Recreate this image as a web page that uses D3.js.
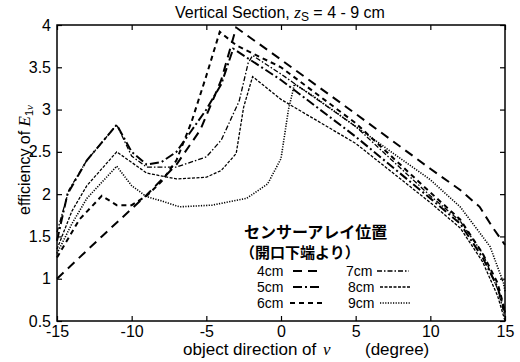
<!DOCTYPE html>
<html>
<head>
<meta charset="utf-8">
<script src="https://cdn.jsdelivr.net/npm/d3@7"></script>
<style>
body { margin: 0; background: #fff; }
svg { font-family: "Liberation Sans", Arial, sans-serif; }
.jp { font-family: "Noto Sans CJK JP", sans-serif; }
</style>
</head>
<body>
<svg id="chart" width="520" height="362"></svg>
<script>
"use strict";

// values, [angle (deg), efficiency]
var series4cm = [[-15,1.0],[-12,1.5],[-9,1.99],[-7,2.35],[-5.4,2.76],[-4,3.35],[-3,3.97],[0,3.59],[5,2.95],[10,2.3],[12,2.05],[13.3,1.85],[14.2,1.6],[15,1.4]];
var series5cm = [[-15,1.45],[-14.3,2.0],[-13,2.4],[-11,2.82],[-10,2.5],[-9,2.35],[-8,2.38],[-7,2.5],[-6,2.75],[-5,3.0],[-4,3.3],[-3.2,3.72],[0,3.35],[5,2.68],[10,1.95],[12,1.65],[13.5,1.25],[14.5,0.9],[15,0.6]];
var series6cm = [[-15,1.25],[-13.5,1.7],[-12,1.98],[-11,1.87],[-10,1.87],[-9,1.98],[-8,2.15],[-7,2.4],[-6,2.85],[-5,3.4],[-4.1,3.92],[-3,3.76],[0,3.5],[5,2.84],[10,2.02],[12,1.7],[13.5,1.3],[14.5,0.95],[15,0.62]];
var series7cm = [[-15,1.55],[-14.2,2.05],[-13,2.4],[-11,2.82],[-10,2.45],[-9,2.32],[-7,2.32],[-5,2.44],[-4,2.64],[-2.8,3.1],[-2.2,3.55],[-1.9,3.64],[0,3.42],[5,2.8],[10,1.98],[12,1.68],[13.5,1.3],[14.5,0.88],[15,0.55]];
var series8cm = [[-15,1.35],[-14,1.8],[-13,2.1],[-11,2.5],[-9,2.25],[-7,2.18],[-5,2.2],[-4,2.28],[-3,2.48],[-2.5,3.03],[-1.9,3.39],[0,3.12],[5,2.6],[10,1.9],[12,1.6],[13.5,1.2],[14.5,0.8],[15,0.5]];
var series9cm = [[-15,1.3],[-14,1.65],[-13,1.95],[-11,2.33],[-10,2.1],[-9,1.97],[-8,1.92],[-6.8,1.85],[-4.6,1.87],[-2.3,1.95],[-0.9,2.12],[0,2.42],[0.5,3.0],[0.9,3.3],[2,3.18],[5,2.8],[10,2.17],[12,1.85],[14,1.38],[14.9,0.95],[15,0.85]];

var seriesNames = ["4cm", "5cm", "6cm", "7cm", "8cm", "9cm"];
var seriesData = [series4cm, series5cm, series6cm, series7cm, series8cm, series9cm];

var xTicks = [-15, -10, -5, 0, 5, 10, 15];
var yTicks = [0.5, 1, 1.5, 2, 2.5, 3, 3.5, 4];

// line styles for each sensor position
var styles = [
	{dash: "9,6", width: 2},
	{dash: "9,3,2,3", width: 2},
	{dash: "5,4", width: 2},
	{dash: "5,2,1.5,2", width: 1.3},
	{dash: "3,1.5", width: 1.3},
	{dash: "1.2,1.4", width: 1.6}
];

var svg = d3.select("#chart");
var margin = {top: 25, right: 15, bottom: 41, left: 57};
var width = 520 - margin.left - margin.right;
var height = 362 - margin.top - margin.bottom;

var x = d3.scaleLinear().domain([-15, 15]).range([0, width]);
var y = d3.scaleLinear().domain([0.5, 4]).range([height, 0]);

var chart = svg.append("g")
	.attr("transform", "translate(" + margin.left + "," + margin.top + ")");

// curves
var line = d3.line()
	.x(function(d) { return x(d[0]); })
	.y(function(d) { return y(d[1]); });

chart.selectAll("path.curve")
	.data(seriesData)
	.enter()
	.append("path")
	.attr("class", "curve")
	.attr("fill", "none")
	.attr("stroke", "#000")
	.attr("stroke-width", function(d, i) { return styles[i].width; })
	.attr("stroke-dasharray", function(d, i) { return styles[i].dash; })
	.attr("d", line);

// axes: inward ticks on every side, MATLAB style
var fmt = function(d) { return String(d); };
function styleAxis(g) {
	g.select(".domain").remove();
	g.selectAll("line").attr("stroke", "#000").attr("stroke-width", 1.2);
	g.selectAll("text").attr("fill", "#000").style("font-size", "16px");
}
chart.append("g")
	.attr("transform", "translate(0," + height + ")")
	.call(d3.axisBottom(x).tickValues(xTicks).tickSize(-5).tickPadding(5).tickFormat(fmt))
	.call(styleAxis);
chart.append("g")
	.call(d3.axisTop(x).tickValues(xTicks).tickSize(-5).tickFormat(""))
	.call(styleAxis);
chart.append("g")
	.call(d3.axisLeft(y).tickValues(yTicks).tickSize(-5).tickPadding(6).tickFormat(fmt))
	.call(styleAxis);
chart.append("g")
	.attr("transform", "translate(" + width + ",0)")
	.call(d3.axisRight(y).tickValues(yTicks).tickSize(-5).tickFormat(""))
	.call(styleAxis);

chart.append("rect")
	.attr("width", width)
	.attr("height", height)
	.attr("fill", "none")
	.attr("stroke", "#000")
	.attr("stroke-width", 1.5);

// title
var title = svg.append("text")
	.attr("x", 280)
	.attr("y", 18)
	.attr("text-anchor", "middle")
	.style("font-size", "16px");
title.append("tspan").text("Vertical Section, ");
title.append("tspan").attr("font-style", "italic").attr("font-family", "Liberation Serif").style("font-size", "17px").text("z");
title.append("tspan").attr("dy", 3).style("font-size", "12px").text("S");
title.append("tspan").attr("dy", -3).text(" = 4 - 9 cm");

// y label
var ylab = svg.append("text")
	.attr("transform", "translate(30,160) rotate(-90)")
	.attr("text-anchor", "middle")
	.style("font-size", "16px");
ylab.append("tspan").text("efficiency of ");
ylab.append("tspan").attr("font-style", "italic").attr("font-family", "Liberation Serif").style("font-size", "17px").text("E");
ylab.append("tspan").attr("dy", 3).style("font-size", "11px").text("1");
ylab.append("tspan").attr("font-style", "italic").attr("font-family", "Liberation Serif").style("font-size", "11px").text("ν");

// x label
var xlab = svg.append("text")
	.attr("x", 183)
	.attr("y", 355)
	.style("font-size", "17px");
xlab.append("tspan").text("object direction of ");
xlab.append("tspan").attr("font-style", "italic").attr("font-family", "Liberation Serif").attr("dx", 2).text("ν");
xlab.append("tspan").attr("x", 365).text("(degree)");

// legend
svg.append("text").attr("class", "jp")
	.attr("x", 244).attr("y", 238)
	.style("font-size", "16px").style("font-weight", "bold")
	.text("センサーアレイ位置");
svg.append("text").attr("class", "jp")
	.attr("x", 240).attr("y", 258)
	.style("font-size", "15px").style("font-weight", "bold")
	.text("（開口下端より）");

var legendPos = [
	{tx: 257, ty: 276, lx1: 293, lx2: 322},
	{tx: 257, ty: 292, lx1: 293, lx2: 322},
	{tx: 257, ty: 308, lx1: 290, lx2: 322},
	{tx: 346, ty: 276, lx1: 377, lx2: 409},
	{tx: 348, ty: 292, lx1: 380, lx2: 410},
	{tx: 348, ty: 308, lx1: 380, lx2: 410}
];

var entry = svg.selectAll("g.legend")
	.data(seriesNames)
	.enter()
	.append("g")
	.attr("class", "legend");
entry.append("text")
	.attr("x", function(d, i) { return legendPos[i].tx; })
	.attr("y", function(d, i) { return legendPos[i].ty; })
	.style("font-size", "14px")
	.text(function(d) { return d; });
entry.append("line")
	.attr("x1", function(d, i) { return legendPos[i].lx1; })
	.attr("x2", function(d, i) { return legendPos[i].lx2; })
	.attr("y1", function(d, i) { return legendPos[i].ty - 5; })
	.attr("y2", function(d, i) { return legendPos[i].ty - 5; })
	.attr("stroke", "#000")
	.attr("stroke-width", function(d, i) { return styles[i].width; })
	.attr("stroke-dasharray", function(d, i) { return styles[i].dash; });
</script>
</body>
</html>
